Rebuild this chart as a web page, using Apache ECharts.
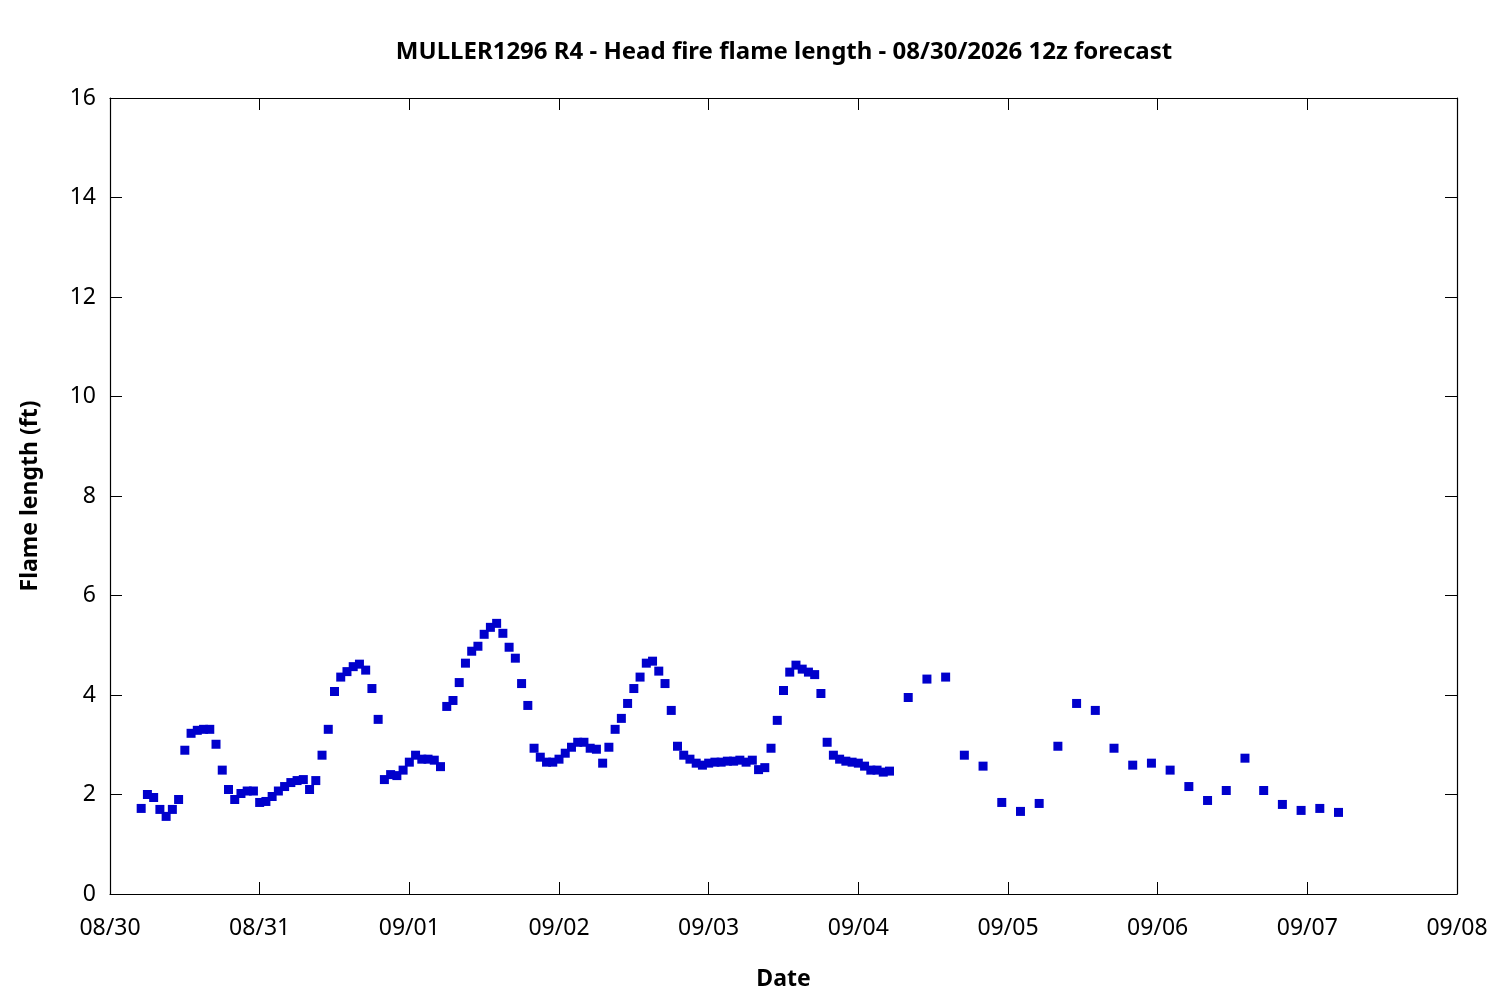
<!DOCTYPE html>
<html>
<head>
<meta charset="utf-8">
<title>Head fire flame length</title>
<script src="https://cdn.jsdelivr.net/npm/echarts@6/dist/echarts.min.js"></script>
<style>
  html, body { margin: 0; padding: 0; background: #fff; }
  #chart { width: 1500px; height: 1000px; }
</style>
</head>
<body>
<div id="chart"></div>
<script>
// hours since 08/30 00:00
const hours = [
    5, 6, 7, 8, 9, 10, 11, 12, 13, 14, 15, 16, 17, 18, 19, 20, 21, 22, 23,
    24, 25, 26, 27, 28, 29, 30, 31, 32, 33, 34, 35, 36, 37, 38, 39, 40, 41, 42, 43, 44, 45, 46, 47,
    48, 49, 50, 51, 52, 53, 54, 55, 56, 57, 58, 59, 60, 61, 62, 63, 64, 65, 66, 67, 68, 69, 70, 71,
    72, 73, 74, 75, 76, 77, 78, 79, 80, 81, 82, 83, 84, 85, 86, 87, 88, 89, 90, 91, 92, 93, 94, 95,
    96, 97, 98, 99, 100, 101, 102, 103, 104, 105, 106, 107, 108, 109, 110, 111, 112, 113, 114, 115,
    116, 117, 118, 119, 120, 121, 122, 123, 124, 125,
    128, 131, 134, 137, 140, 143, 146, 149, 152, 155, 158, 161, 164, 167, 170, 173, 176, 179,
    182, 185, 188, 191, 194, 197
];

// flame length (ft)
const flameLength = [
    1.72, 2.00, 1.94, 1.70, 1.56, 1.70, 1.90, 2.89, 3.23, 3.29, 3.31, 3.31, 3.01, 2.49, 2.10, 1.90, 2.02, 2.07, 2.07,
    1.84, 1.86, 1.96, 2.07, 2.16, 2.24, 2.28, 2.30, 2.10, 2.28, 2.79, 3.31, 4.07, 4.36, 4.47, 4.57, 4.62, 4.50, 4.13, 3.51, 2.30, 2.40, 2.38, 2.49,
    2.65, 2.79, 2.71, 2.71, 2.69, 2.56, 3.77, 3.89, 4.25, 4.64, 4.88, 4.98, 5.22, 5.36, 5.44, 5.24, 4.96, 4.74, 4.23, 3.79, 2.93, 2.75, 2.65, 2.65,
    2.71, 2.83, 2.95, 3.05, 3.05, 2.93, 2.91, 2.63, 2.95, 3.31, 3.53, 3.83, 4.13, 4.36, 4.64, 4.68, 4.48, 4.23, 3.69, 2.97, 2.79, 2.71, 2.63, 2.59,
    2.63, 2.65, 2.65, 2.67, 2.67, 2.69, 2.65, 2.69, 2.50, 2.54, 2.93, 3.49, 4.09, 4.46, 4.60, 4.52, 4.46, 4.41, 4.03, 3.05,
    2.79, 2.71, 2.67, 2.65, 2.63, 2.57, 2.49, 2.49, 2.45, 2.47,
    3.95, 4.32, 4.36, 2.79, 2.57, 1.84, 1.66, 1.82, 2.97, 3.83, 3.69, 2.93, 2.59, 2.63, 2.49, 2.16, 1.88, 2.08,
    2.73, 2.08, 1.80, 1.68, 1.72, 1.64
];

const xTickLabels = ['08/30', '08/31', '09/01', '09/02', '09/03', '09/04', '09/05', '09/06', '09/07', '09/08'];

const chart = echarts.init(document.getElementById('chart'));

const fontFamily = 'Noto Sans';
const tickStyle = { show: true, inside: true, length: 12, lineStyle: { color: '#000', width: 1 } };
const lineStyle = { show: true, onZero: false, lineStyle: { color: '#000', width: 1.2 } };
const nameStyle = { fontFamily: fontFamily, fontSize: 23, fontWeight: 'bold', color: '#000' };

const option = {
    animation: false,
    backgroundColor: '#fff',
    textStyle: { fontFamily: fontFamily },
    title: {
        text: 'MULLER1296 R4 - Head fire flame length - 08/30/2026 12z forecast',
        left: 779,
        top: 35,
        textAlign: 'center',
        textStyle: { fontFamily: fontFamily, fontSize: 24, fontWeight: 'bold', color: '#000' }
    },
    grid: { left: 110, right: 43, top: 98, bottom: 106, containLabel: false },
    xAxis: [
        {
            type: 'value',
            min: 0,
            max: 216,
            interval: 24,
            name: 'Date',
            nameLocation: 'middle',
            nameGap: 74,
            nameTextStyle: nameStyle,
            axisLine: lineStyle,
            axisTick: tickStyle,
            splitLine: { show: false },
            axisLabel: {
                margin: 23,
                fontSize: 23,
                color: '#000',
                fontFamily: fontFamily,
                formatter: v => xTickLabels[Math.round(v / 24)]
            }
        },
        {
            type: 'value',
            position: 'top',
            min: 0,
            max: 216,
            interval: 24,
            axisLine: lineStyle,
            axisTick: tickStyle,
            axisLabel: { show: false },
            splitLine: { show: false }
        }
    ],
    yAxis: [
        {
            type: 'value',
            min: 0,
            max: 16,
            interval: 2,
            name: 'Flame length (ft)',
            nameLocation: 'middle',
            nameGap: 68,
            nameTextStyle: nameStyle,
            axisLine: lineStyle,
            axisTick: tickStyle,
            splitLine: { show: false },
            axisLabel: { margin: 14, fontSize: 23, color: '#000', fontFamily: fontFamily }
        },
        {
            type: 'value',
            position: 'right',
            min: 0,
            max: 16,
            interval: 2,
            axisLine: lineStyle,
            axisTick: tickStyle,
            axisLabel: { show: false },
            splitLine: { show: false }
        }
    ],
    series: [
        {
            name: 'Flame length',
            type: 'scatter',
            symbol: 'rect',
            symbolSize: 9,
            itemStyle: { color: '#0000cc', opacity: 1 },
            data: hours.map((h, i) => [h, flameLength[i]])
        }
    ]
};

chart.setOption(option);
</script>
</body>
</html>
